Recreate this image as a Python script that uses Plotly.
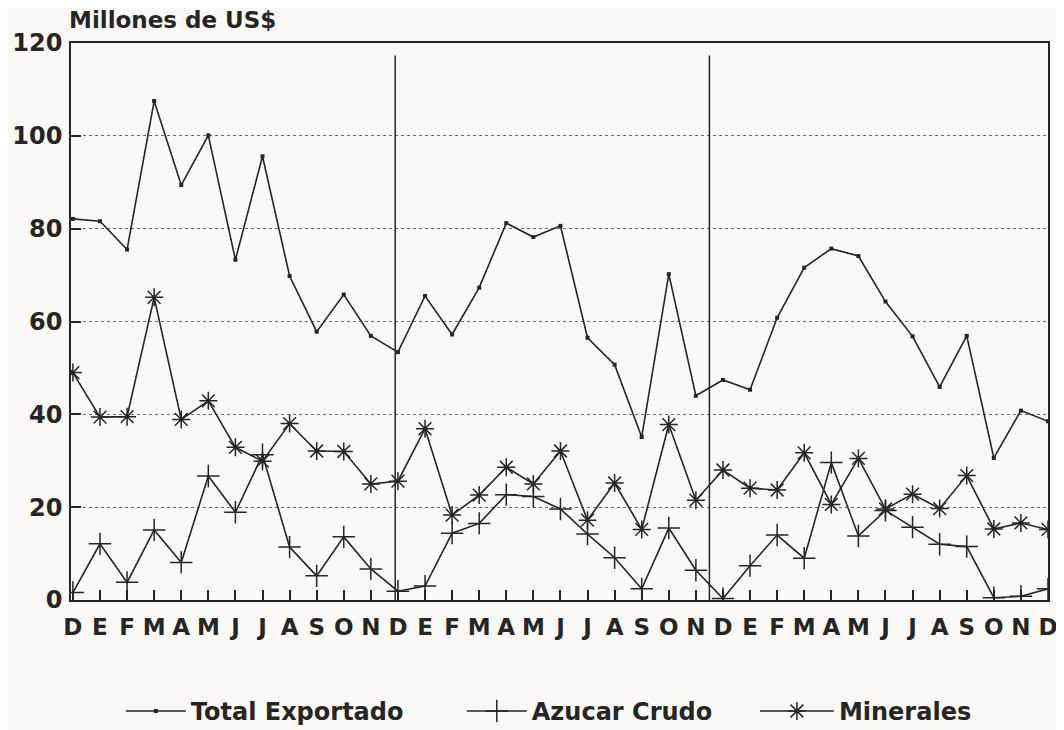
import plotly.graph_objects as go

meses = ["D", "E", "F", "M", "A", "M", "J", "J", "A", "S", "O", "N",
         "D", "E", "F", "M", "A", "M", "J", "J", "A", "S", "O", "N",
         "D", "E", "F", "M", "A", "M", "J", "J", "A", "S", "O", "N", "D"]

total_exportado = [82.1, 81.6, 75.5, 107.5, 89.4, 100.1, 73.3, 95.6, 69.8, 57.8, 65.8, 56.9,
                   53.4, 65.5, 57.2, 67.3, 81.2, 78.2, 80.6, 56.5, 50.7, 35.1, 70.2, 44.0,
                   47.4, 45.3, 60.8, 71.6, 75.7, 74.1, 64.3, 56.8, 45.9, 56.9, 30.6, 40.8, 38.5]

azucar_crudo = [1.6, 12.1, 3.8, 15.1, 8.1, 26.7, 18.9, 31.3, 11.4, 5.2, 13.6, 6.7,
                1.9, 3.0, 14.4, 16.5, 22.7, 22.3, 19.6, 14.2, 9.1, 2.4, 15.5, 6.4,
                0.3, 7.4, 14.0, 9.0, 29.6, 13.8, 19.3, 15.7, 12.0, 11.5, 0.5, 0.8, 2.4]

minerales = [49.0, 39.4, 39.5, 65.2, 38.9, 42.9, 32.9, 29.9, 38.0, 32.1, 32.0, 25.0,
             25.6, 36.9, 18.3, 22.6, 28.6, 25.0, 32.1, 17.2, 25.2, 15.2, 37.8, 21.5,
             28.0, 24.1, 23.7, 31.7, 20.6, 30.5, 19.6, 22.8, 19.7, 26.8, 15.3, 16.6, 15.2]

separadores = [11.9, 23.5]
y_ticks = [0, 20, 40, 60, 80, 100, 120]

ink = "#252525"
bg = "#faf9f6"
font_family = "DejaVu Sans"
x_idx = list(range(len(meses)))

fig = go.Figure()
fig.add_trace(go.Scatter(
    x=x_idx, y=total_exportado, name="<b>Total Exportado</b>", mode="lines+markers",
    legend="legend",
    line=dict(color=ink, width=1.6),
    marker=dict(symbol="square", size=4, color=ink)))
fig.add_trace(go.Scatter(
    x=x_idx, y=azucar_crudo, name="<b>Azucar Crudo</b>", mode="lines+markers",
    legend="legend2",
    line=dict(color=ink, width=1.6),
    marker=dict(symbol="cross-thin-open", size=16, color=ink,
                line=dict(color=ink, width=1.5))))
fig.add_trace(go.Scatter(
    x=x_idx, y=minerales, name="<b>Minerales</b>", mode="lines+markers",
    legend="legend3",
    line=dict(color=ink, width=1.6),
    marker=dict(symbol="asterisk-open", size=15, color=ink,
                line=dict(color=ink, width=1.5))))

for xs in separadores:
    fig.add_shape(type="line", xref="x", yref="y", x0=xs, x1=xs, y0=0, y1=117.3,
                  line=dict(color=ink, width=1.5))

fig.add_annotation(text="<b>Millones de US$</b>", xref="paper", yref="paper",
                   x=-0.004, y=1.041, xanchor="left", yanchor="middle", showarrow=False,
                   font=dict(family=font_family, size=23, color=ink))

leg_common = dict(orientation="h", yanchor="middle", y=-0.2, xanchor="left",
                  font=dict(family=font_family, size=24, color=ink),
                  bgcolor="rgba(0,0,0,0)")

fig.update_layout(
    width=1056, height=722,
    margin=dict(l=63, r=16, t=35, b=130, autoexpand=False),
    paper_bgcolor=bg, plot_bgcolor=bg,
    showlegend=True,
    legend=dict(x=0.051, itemwidth=60, **leg_common),
    legend2=dict(x=0.400, itemwidth=60, **leg_common),
    legend3=dict(x=0.700, itemwidth=74, **leg_common),
    xaxis=dict(range=[-0.07, 36.0], tickmode="array", tickvals=x_idx,
               ticktext=["<b>%s</b>" % m for m in meses], automargin=False,
               ticks="inside", ticklen=10, tickwidth=1.5, tickcolor=ink,
               showline=True, linecolor=ink, linewidth=1.5, mirror=True,
               showgrid=False, zeroline=False, ticklabelstandoff=6,
               tickfont=dict(family=font_family, size=23, color=ink)),
    yaxis=dict(range=[0, 120], tickmode="array", tickvals=y_ticks,
               ticktext=["<b>%d</b>" % v for v in y_ticks], automargin=False,
               ticks="inside", ticklen=10, tickwidth=1.5, tickcolor=ink,
               showline=True, linecolor=ink, linewidth=1.5, mirror=True,
               showgrid=True, gridcolor="#6a6a6a", gridwidth=1, griddash="dot",
               zeroline=False, ticklabelstandoff=2,
               tickfont=dict(family=font_family, size=24, color=ink)),
)

fig.write_html("out.html")
